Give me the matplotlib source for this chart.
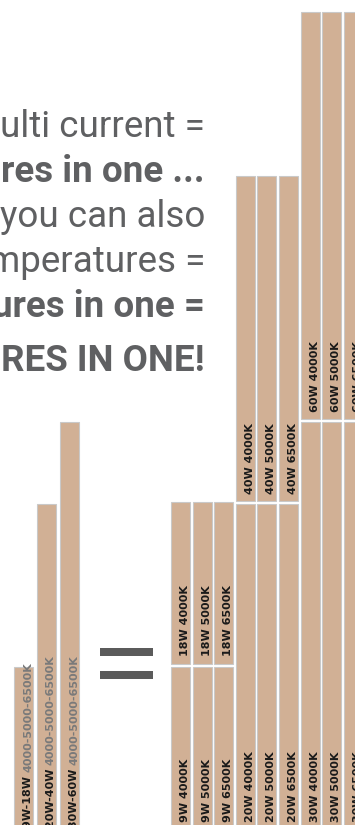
import matplotlib
matplotlib.use('Agg')
import matplotlib.pyplot as plt
from matplotlib.patches import Rectangle

# data
low_watts   = [9, 20, 30]
high_watts  = [18, 40, 60]
color_temps = ['4000K', '5000K', '6500K']
bar_heights = [162, 325, 407]          # visual height of one segment
range_label = '4000-5000-6500K'

headline      = ['ulti current =', 'res in one ...', 'you can also',
                 'mperatures =', 'ures in one =', 'RES IN ONE!']
headline_bold = [False, True, False, False, True, True]
headline_base = [137, 182, 227, 272, 317, 371]   # baseline, px from top

W, H = 355, 825
fig = plt.figure(figsize=(W / 100, H / 100), dpi=100)
ax = fig.add_axes([0, 0, 1, 1])
ax.set_xlim(0, W)
ax.set_ylim(4, H + 4)
ax.axis('off')

fill   = '#d1b095'
edge   = '#c9c9c9'
bw     = 19
gap    = 3.5
lab_kw = dict(rotation=90, rotation_mode='anchor', ha='left', va='baseline',
              family='DejaVu Sans', fontweight='bold', fontsize=8)

# headline text, right aligned
for txt, bold, base in zip(headline, headline_bold, headline_base):
    ax.text(205, H + 4 - base, txt, ha='right', va='baseline', family='Roboto',
            fontweight='bold' if bold else 'normal', fontsize=26.5, color='#5f6062')

# left bars: one fixture per current range
left_x = [23.5 + 23 * i for i in range(len(bar_heights))]
ax.bar(left_x, bar_heights, width=bw, bottom=0, color=fill, edgecolor=edge, linewidth=0.8)

fig.canvas.draw()
r = fig.canvas.get_renderer()
for x, lo, hi in zip(left_x, low_watts, high_watts):
    t = ax.text(x + 7.5, 1, '%dW-%dW ' % (lo, hi), color='#1a1a1a', **lab_kw)
    bb = t.get_window_extent(r)
    ax.text(x + 7.5, 1 + bb.height, range_label, color='#7a7a7a', **lab_kw)

# equals sign
ax.add_patch(Rectangle((100, H + 4 - 656), 53, 8, color='#5b5b5b', lw=0))
ax.add_patch(Rectangle((100, H + 4 - 679), 53, 8, color='#5b5b5b', lw=0))

# right side: every wattage / colour temperature as separate stacked pieces
right_x, seg_h, lo_lab, hi_lab = [], [], [], []
for g in range(len(bar_heights)):
    for k, ct in enumerate(color_temps):
        right_x.append(180.5 + 21.6 * (3 * g + k))
        seg_h.append(bar_heights[g])
        lo_lab.append('%dW %s' % (low_watts[g], ct))
        hi_lab.append('%dW %s' % (high_watts[g], ct))

upper_bottom = [h + gap for h in seg_h]
ax.bar(right_x, seg_h, width=bw, bottom=0, color=fill, edgecolor=edge, linewidth=0.8)
ax.bar(right_x, seg_h, width=bw, bottom=upper_bottom, color=fill, edgecolor=edge, linewidth=0.8)

for x, b, l1, l2 in zip(right_x, upper_bottom, lo_lab, hi_lab):
    ax.text(x + 7.5, 7, l1, color='#1a1a1a', **lab_kw)
    ax.text(x + 7.5, b + 7, l2, color='#1a1a1a', **lab_kw)

fig.savefig('out.png', dpi=100, facecolor='white')
